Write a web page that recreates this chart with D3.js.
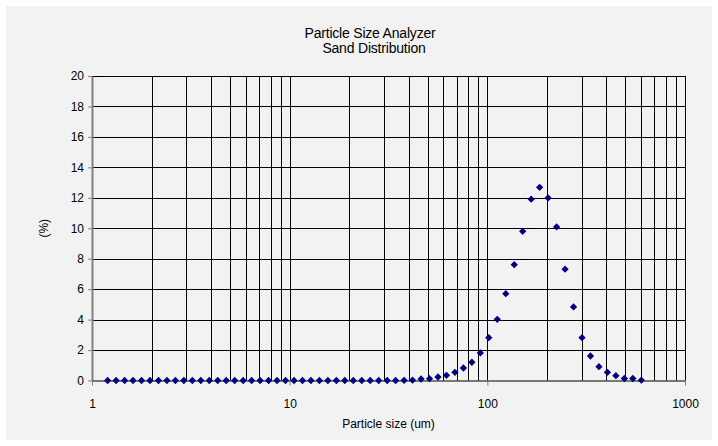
<!DOCTYPE html>
<html>
<head>
<meta charset="utf-8">
<script src="https://cdn.jsdelivr.net/npm/d3@7"></script>
<style>
  body { margin: 0; background: #fff; }
  text { font-family: "Liberation Sans", Arial, sans-serif; fill: #000; }
</style>
</head>
<body>
<div id="chart"></div>
<script>
// particle size channels (um)
var sizes = [1.200, 1.324, 1.462, 1.613, 1.781, 1.965, 2.169, 2.394, 2.642, 2.916,
  3.218, 3.552, 3.920, 4.327, 4.776, 5.271, 5.818, 6.421, 7.087, 7.822,
  8.633, 9.528, 10.52, 11.61, 12.81, 14.14, 15.61, 17.23, 19.01, 20.98,
  23.16, 25.56, 28.21, 31.14, 34.37, 37.93, 41.86, 46.21, 51.00, 56.29,
  62.12, 68.57, 75.68, 83.53, 92.19, 101.7, 112.3, 124.0, 136.8, 151.0,
  166.7, 183.9, 203.0, 224.1, 247.3, 273.0, 301.3, 332.5, 367.0, 405.1,
  447.1, 493.5, 544.7, 601.2];

// percent in each channel
var percents = [0, 0, 0, 0, 0, 0, 0, 0, 0, 0,
  0, 0, 0, 0, 0, 0, 0, 0, 0, 0,
  0, 0, 0, 0, 0, 0, 0, 0, 0, 0,
  0, 0, 0, 0, 0, 0.01, 0.02, 0.10, 0.12, 0.23,
  0.34, 0.54, 0.82, 1.20, 1.81, 2.81, 4.02, 5.70, 7.61, 9.80,
  11.91, 12.69, 11.99, 10.09, 7.31, 4.83, 2.81, 1.61, 0.91, 0.54,
  0.32, 0.13, 0.13, 0.02];

var xTicks = [1, 10, 100, 1000];
var yTicks = [0, 2, 4, 6, 8, 10, 12, 14, 16, 18, 20];

var W = 718, H = 446;
var margin = {top: 76, right: 33, bottom: 65.5, left: 92};
var width = W - margin.left - margin.right,
    height = H - margin.top - margin.bottom;

var svg = d3.select("#chart").append("svg")
    .attr("width", W)
    .attr("height", H);

// chart area background
svg.append("rect")
    .attr("x", 6).attr("y", 6)
    .attr("width", W - 12).attr("height", H - 12)
    .attr("fill", "#f2f2f2");

var g = svg.append("g")
    .attr("transform", "translate(" + margin.left + "," + margin.top + ")");

var x = d3.scaleLog().domain([1, 1000]).range([0, width]);
var y = d3.scaleLinear().domain([0, 20]).range([height, 0]);

// minor log grid: 2..10, 20..100, 200..1000
var gridX = [];
[1, 10, 100].forEach(function (d) {
    for (var i = 2; i <= 10; i++) gridX.push(d * i);
});

g.append("g").selectAll("line")
    .data(gridX)
    .enter().append("line")
    .attr("x1", function (d) { return Math.round(x(d)) + 0.5; })
    .attr("x2", function (d) { return Math.round(x(d)) + 0.5; })
    .attr("y1", 0)
    .attr("y2", height)
    .attr("stroke", "#000")
    .attr("stroke-width", 1);

g.append("g").selectAll("line")
    .data(yTicks.slice(1))
    .enter().append("line")
    .attr("x1", 0)
    .attr("x2", width)
    .attr("y1", function (d) { return Math.round(y(d)) + 0.5; })
    .attr("y2", function (d) { return Math.round(y(d)) + 0.5; })
    .attr("stroke", "#000")
    .attr("stroke-width", 1);

// y axis
var yAxis = g.append("g")
    .call(d3.axisLeft(y).tickValues(yTicks).tickSize(4).tickPadding(4).tickSizeOuter(0));
yAxis.select(".domain").attr("stroke", "#808080").attr("stroke-width", 2);
yAxis.selectAll(".tick line").attr("stroke", "#808080");
yAxis.selectAll("text").style("font-size", "12px").attr("fill", "#000");

// x axis
var xAxis = g.append("g")
    .attr("transform", "translate(0," + height + ")")
    .call(d3.axisBottom(x).tickValues(xTicks).tickFormat(d3.format("d"))
        .tickSize(5).tickPadding(14).tickSizeOuter(0));
xAxis.select(".domain").attr("stroke", "#000").attr("stroke-width", 1.2);
xAxis.selectAll(".tick line").attr("stroke", "#808080");
xAxis.selectAll("text").style("font-size", "12px").attr("fill", "#000");

// data markers
var pts = sizes.map(function (s, i) { return {size: s, pct: percents[i]}; });
g.append("g").selectAll("path")
    .data(pts)
    .enter().append("path")
    .attr("d", d3.symbol().type(d3.symbolDiamond2).size(34))
    .attr("transform", function (d) {
        return "translate(" + x(d.size) + "," + y(d.pct) + ")";
    })
    .attr("fill", "#000080");

// titles
svg.append("text")
    .attr("x", 370).attr("y", 38)
    .attr("text-anchor", "middle")
    .style("font-size", "14px")
    .style("letter-spacing", "-0.2px")
    .text("Particle Size Analyzer");
svg.append("text")
    .attr("x", 374).attr("y", 53)
    .attr("text-anchor", "middle")
    .style("font-size", "14px")
    .style("letter-spacing", "-0.2px")
    .text("Sand Distribution");

// axis labels
svg.append("text")
    .attr("x", margin.left + width / 2).attr("y", 428)
    .attr("text-anchor", "middle")
    .style("font-size", "12px")
    .text("Particle size (um)");
svg.append("text")
    .attr("transform", "translate(48," + (margin.top + height / 2) + ") rotate(-90)")
    .attr("text-anchor", "middle")
    .style("font-size", "12px")
    .text("(%)");
</script>
</body>
</html>
